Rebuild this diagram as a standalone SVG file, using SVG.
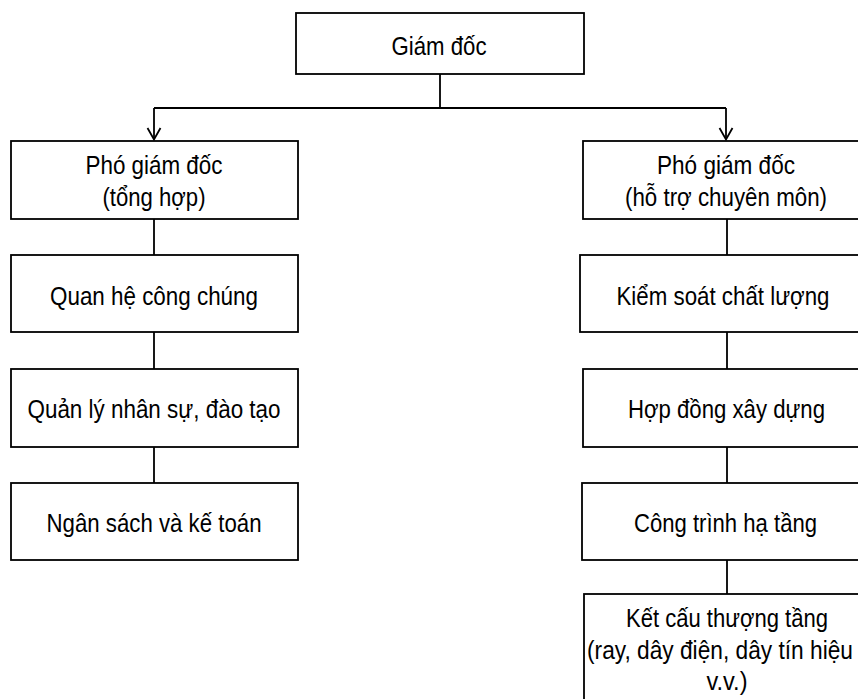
<svg xmlns="http://www.w3.org/2000/svg" width="858" height="699" viewBox="0 0 858 699">
  <style>
    .box { fill: #ffffff; stroke: #000000; stroke-width: 1.8; }
    .conn { fill: none; stroke: #000000; stroke-width: 1.8; }
    .head { fill: none; stroke: #000000; stroke-width: 1.8; stroke-linejoin: miter; }
    text { font-family: "Liberation Sans", Arial, sans-serif; font-size: 25px; fill: #000000; }
    .c { text-anchor: middle; }
  </style>
  <rect width="858" height="699" fill="#ffffff"/>

  <!-- connectors -->
  <g id="connectors">
    <path class="conn" d="M440,74 V108 M154,108 H726 M154,108 V139 M726,108 V139"/>
    <path class="head" d="M147.5,128 L154,139.5 L160.5,128"/>
    <path class="head" d="M719.5,128 L726,139.5 L732.5,128"/>
    <path class="conn" d="M154,219 V255 M154,332 V369 M154,447 V483"/>
    <path class="conn" d="M727,219 V255 M727,332 V369 M727,447 V483 M727,560 V594"/>
  </g>

  <!-- director -->
  <g id="giam-doc">
    <rect class="box" x="296" y="13" width="288" height="61"/>
    <text x="439" y="55" class="c" textLength="95" lengthAdjust="spacingAndGlyphs">Giám đốc</text>
  </g>

  <!-- left branch -->
  <g id="pgd-tong-hop">
    <rect class="box" x="11" y="141" width="287" height="78"/>
    <text x="154" y="174" class="c" textLength="137" lengthAdjust="spacingAndGlyphs">Phó giám đốc</text>
    <text x="154" y="206" class="c" textLength="103" lengthAdjust="spacingAndGlyphs">(tổng hợp)</text>
  </g>
  <g id="quan-he-cong-chung">
    <rect class="box" x="11" y="255" width="287" height="77"/>
    <text x="154" y="305" class="c" textLength="208" lengthAdjust="spacingAndGlyphs">Quan hệ công chúng</text>
  </g>
  <g id="quan-ly-nhan-su">
    <rect class="box" x="11" y="369" width="287" height="78"/>
    <text x="154" y="418" class="c" textLength="253" lengthAdjust="spacingAndGlyphs">Quản lý nhân sự, đào tạo</text>
  </g>
  <g id="ngan-sach">
    <rect class="box" x="11" y="483" width="287" height="77"/>
    <text x="154" y="532" class="c" textLength="215" lengthAdjust="spacingAndGlyphs">Ngân sách và kế toán</text>
  </g>

  <!-- right branch -->
  <g id="pgd-chuyen-mon">
    <rect class="box" x="583" y="141" width="290" height="78"/>
    <text x="726" y="174" class="c" textLength="138" lengthAdjust="spacingAndGlyphs">Phó giám đốc</text>
    <text x="726" y="206" class="c" textLength="202" lengthAdjust="spacingAndGlyphs">(hỗ trợ chuyên môn)</text>
  </g>
  <g id="kiem-soat-chat-luong">
    <rect class="box" x="580" y="255" width="293" height="77"/>
    <text x="723" y="305" class="c" textLength="213" lengthAdjust="spacingAndGlyphs">Kiểm soát chất lượng</text>
  </g>
  <g id="hop-dong-xay-dung">
    <rect class="box" x="583" y="369" width="290" height="78"/>
    <text x="726.5" y="418" class="c" textLength="197" lengthAdjust="spacingAndGlyphs">Hợp đồng xây dựng</text>
  </g>
  <g id="cong-trinh-ha-tang">
    <rect class="box" x="582" y="483" width="291" height="77"/>
    <text x="725.5" y="532" class="c" textLength="183" lengthAdjust="spacingAndGlyphs">Công trình hạ tầng</text>
  </g>
  <g id="ket-cau-thuong-tang">
    <rect class="box" x="584" y="594" width="289" height="120"/>
    <text x="727" y="627" class="c" textLength="202" lengthAdjust="spacingAndGlyphs">Kết cấu thượng tầng</text>
    <text x="587" y="659" textLength="266" lengthAdjust="spacingAndGlyphs">(ray, dây điện, dây tín hiệu</text>
    <text x="727" y="690" class="c" textLength="41" lengthAdjust="spacingAndGlyphs">v.v.)</text>
  </g>
</svg>
